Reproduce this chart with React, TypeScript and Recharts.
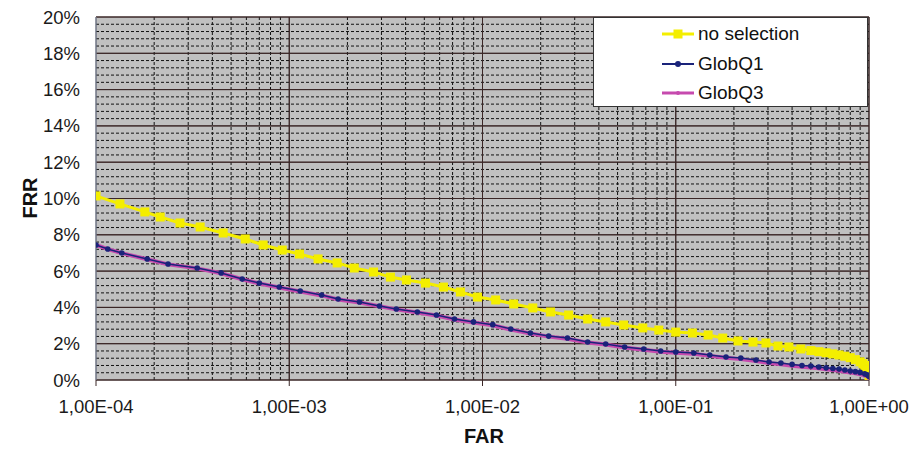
import React from "react";
import {
  LineChart,
  Line,
  XAxis,
  YAxis,
  CartesianGrid,
  ReferenceLine,
} from "recharts";

// FAR (x, log scale) / FRR (y, in %)
const noSelectionFar = [
  1.0e-4, 1.33e-4, 1.79e-4, 2.15e-4, 2.72e-4, 3.46e-4, 4.55e-4, 5.92e-4, 7.33e-4, 9.2e-4,
  1.13e-3, 1.41e-3, 1.77e-3, 2.17e-3, 2.73e-3, 3.34e-3, 4.04e-3, 5.07e-3, 6.28e-3, 7.69e-3,
  9.42e-3, 1.17e-2, 1.45e-2, 1.82e-2, 2.25e-2, 2.79e-2, 3.5e-2, 4.34e-2, 5.38e-2, 6.75e-2,
  8.17e-2, 0.1, 0.122, 0.147, 0.175, 0.21, 0.251, 0.293, 0.338, 0.385, 0.444, 0.5, 0.55, 0.6,
  0.65, 0.7, 0.75, 0.8, 0.85, 0.9, 0.93, 0.95, 0.97, 0.98, 0.99, 1.0,
];
const noSelectionFrr = [
  10.14, 9.7, 9.26, 8.98, 8.65, 8.43, 8.1, 7.77, 7.44, 7.16,
  6.94, 6.67, 6.45, 6.17, 5.95, 5.67, 5.51, 5.34, 5.12, 4.85,
  4.57, 4.41, 4.19, 3.97, 3.75, 3.58, 3.36, 3.2, 3.03, 2.87,
  2.75, 2.64, 2.59, 2.48, 2.31, 2.15, 2.09, 2.04, 1.87, 1.82, 1.71, 1.62, 1.56, 1.5,
  1.44, 1.38, 1.31, 1.23, 1.12, 1.0, 0.9, 0.8, 0.66, 0.56, 0.45, 0.25,
];

const globQ1Far = [
  1e-4, 1.15e-4, 1.36e-4, 1.84e-4, 2.36e-4, 3.34e-4, 4.44e-4, 5.71e-4, 7.0e-4, 8.88e-4,
  1.14e-3, 1.47e-3, 1.79e-3, 2.31e-3, 2.93e-3, 3.58e-3, 4.6e-3, 5.78e-3, 7.16e-3, 8.98e-3,
  1.13e-2, 1.4e-2, 1.77e-2, 2.2e-2, 2.75e-2, 3.5e-2, 4.34e-2, 5.44e-2, 6.83e-2, 8.36e-2,
  0.1, 0.124, 0.15, 0.182, 0.217, 0.26, 0.304, 0.35, 0.4, 0.45, 0.5, 0.55, 0.6, 0.65,
  0.7, 0.75, 0.8, 0.85, 0.9, 0.95, 0.98, 1.0,
];
const globQ1Frr = [
  7.44, 7.22, 7.0, 6.67, 6.39, 6.17, 5.9, 5.56, 5.34, 5.12,
  4.9, 4.68, 4.46, 4.3, 4.08, 3.91, 3.75, 3.58, 3.36, 3.2,
  3.05, 2.81, 2.59, 2.42, 2.31, 2.09, 1.98, 1.82, 1.71, 1.6,
  1.54, 1.49, 1.38, 1.27, 1.21, 1.1, 0.99, 0.94, 0.86, 0.8, 0.77, 0.72, 0.67, 0.63,
  0.6, 0.55, 0.5, 0.46, 0.42, 0.34, 0.28, 0.2,
];
const globQ3Frr = [
  7.44, 7.21, 6.99, 6.65, 6.37, 6.15, 5.88, 5.55, 5.32, 5.1,
  4.88, 4.66, 4.44, 4.27, 4.06, 3.89, 3.72, 3.55, 3.33, 3.17,
  3.02, 2.78, 2.56, 2.39, 2.27, 2.06, 1.95, 1.79, 1.67, 1.56,
  1.5, 1.44, 1.33, 1.22, 1.15, 1.04, 0.93, 0.87, 0.79, 0.73, 0.69, 0.64, 0.59, 0.55,
  0.51, 0.46, 0.41, 0.37, 0.32, 0.24, 0.17, 0.08,
];

const farTicks = [1e-4, 1e-3, 1e-2, 1e-1, 1];
const frrTicks = [0, 2, 4, 6, 8, 10, 12, 14, 16, 18, 20];
const minorFar = [1e-4, 1e-3, 1e-2, 1e-1].flatMap((d) =>
  [2, 3, 4, 5, 6, 7, 8, 9].map((k) => k * d)
);
const minorFrr = Array.from({ length: 50 }, (_, i) => +(i * 0.4).toFixed(1)).filter(
  (v) => v > 0 && Math.round(v * 10) % 20 !== 0
);

const noSelData = noSelectionFar.map((far, i) => ({ far, frr: noSelectionFrr[i] }));
const q1Data = globQ1Far.map((far, i) => ({ far, frr: globQ1Frr[i] }));
const q3Data = globQ1Far.map((far, i) => ({ far, frr: globQ3Frr[i] }));

const FONT = "'Liberation Sans', Arial, sans-serif";

function fmtFar(v: number) {
  const [m, e] = v.toExponential(2).split("e");
  const n = parseInt(e, 10);
  return m.replace(".", ",") + "E" + (n < 0 ? "-" : "+") + String(Math.abs(n)).padStart(2, "0");
}

const SquareDot = (props: any) => {
  const { cx, cy, index } = props;
  if (cx == null || cy == null) return <g key={index} />;
  return <rect key={index} x={cx - 4.5} y={cy - 4.5} width={9} height={9} fill="#f4ee00" />;
};

const legendItems = [
  { name: "no selection", color: "#f4ee00", kind: "square" },
  { name: "GlobQ1", color: "#1a237a", kind: "circle" },
  { name: "GlobQ3", color: "#c64aae", kind: "small" },
];

const LegendBox = () => (
  <div
    style={{
      position: "absolute",
      left: 593,
      top: 17,
      width: 273,
      height: 88,
      background: "#fff",
      border: "1px solid #333",
      fontFamily: FONT,
      fontSize: 19,
      color: "#111",
    }}
  >
    {legendItems.map((it, i) => (
      <div
        key={it.name}
        style={{ position: "absolute", left: 68, top: 4 + i * 29.5, display: "flex", alignItems: "center", height: 24 }}
      >
        <svg width={32} height={12}>
          <line x1={0} y1={6} x2={32} y2={6} stroke={it.color} strokeWidth={it.kind === "circle" ? 2 : 3} />
          {it.kind === "square" && <rect x={11.5} y={1.5} width={9} height={9} fill={it.color} />}
          {it.kind === "circle" && <circle cx={16} cy={6} r={3} fill={it.color} />}
          {it.kind === "small" && <circle cx={16} cy={6} r={2} fill={it.color} />}
        </svg>
        <span style={{ marginLeft: 4 }}>{it.name}</span>
      </div>
    ))}
  </div>
);

export default function App() {
  return (
    <div style={{ width: 915, height: 452, background: "#fff", position: "relative" }}>
      <style>{"body{margin:0}"}</style>
      <LineChart
        width={915}
        height={452}
        margin={{ top: 17, right: 46, left: 0, bottom: 0 }}
        style={{ fontFamily: FONT }}
      >
        <CartesianGrid fill="#c0c0c0" stroke="#3a2626" strokeWidth={1} />
        {minorFrr.map((v) => (
          <ReferenceLine key={"h" + v} y={v} stroke="#111" strokeDasharray="3 2" strokeWidth={1} />
        ))}
        {minorFar.map((v) => (
          <ReferenceLine key={"v" + v} x={v} stroke="#111" strokeDasharray="3 2" strokeWidth={1} />
        ))}
        {frrTicks.slice(1).map((v) => (
          <ReferenceLine key={"H" + v} y={v} stroke="#3a2626" strokeWidth={1} />
        ))}
        {farTicks.slice(1).map((v) => (
          <ReferenceLine key={"V" + v} x={v} stroke="#3a2626" strokeWidth={1} />
        ))}
        <XAxis
          dataKey="far"
          type="number"
          scale="log"
          domain={[1e-4, 1]}
          allowDataOverflow
          ticks={farTicks}
          tickFormatter={fmtFar}
          height={72}
          tickSize={6}
          tickMargin={14}
          stroke="#3a2626"
          tick={{ fill: "#1a1a1a", fontSize: 18.5 }}
          label={{
            content: () => (
              <text x={484} y={443} textAnchor="middle" fontSize={20} fontWeight="bold" fill="#111" fontFamily={FONT}>
                FAR
              </text>
            ),
          }}
        />
        <YAxis
          type="number"
          domain={[0, 20]}
          ticks={frrTicks}
          tickFormatter={(v: number) => `${v}%`}
          width={96}
          tickLine={false}
          tickSize={0}
          tickMargin={16}
          stroke="#8a9cb4"
          tick={{ fill: "#1a1a1a", fontSize: 18.5 }}
          label={{
            content: () => (
              <text
                x={37}
                y={198}
                transform="rotate(-90 37 198)"
                textAnchor="middle"
                fontSize={20}
                fontWeight="bold"
                fill="#111"
                fontFamily={FONT}
              >
                FRR
              </text>
            ),
          }}
        />
        <Line
          data={noSelData}
          dataKey="frr"
          name="no selection"
          stroke="#f4ee00"
          strokeWidth={3}
          dot={SquareDot}
          isAnimationActive={false}
        />
        <Line
          data={q3Data}
          dataKey="frr"
          name="GlobQ3"
          stroke="#c64aae"
          strokeWidth={4}
          dot={{ r: 1.8, fill: "#c64aae", stroke: "none" }}
          isAnimationActive={false}
        />
        <Line
          data={q1Data}
          dataKey="frr"
          name="GlobQ1"
          stroke="#1a237a"
          strokeWidth={1.5}
          dot={{ r: 2.8, fill: "#1a237a", stroke: "none" }}
          isAnimationActive={false}
        />
      </LineChart>
      <LegendBox />
    </div>
  );
}
